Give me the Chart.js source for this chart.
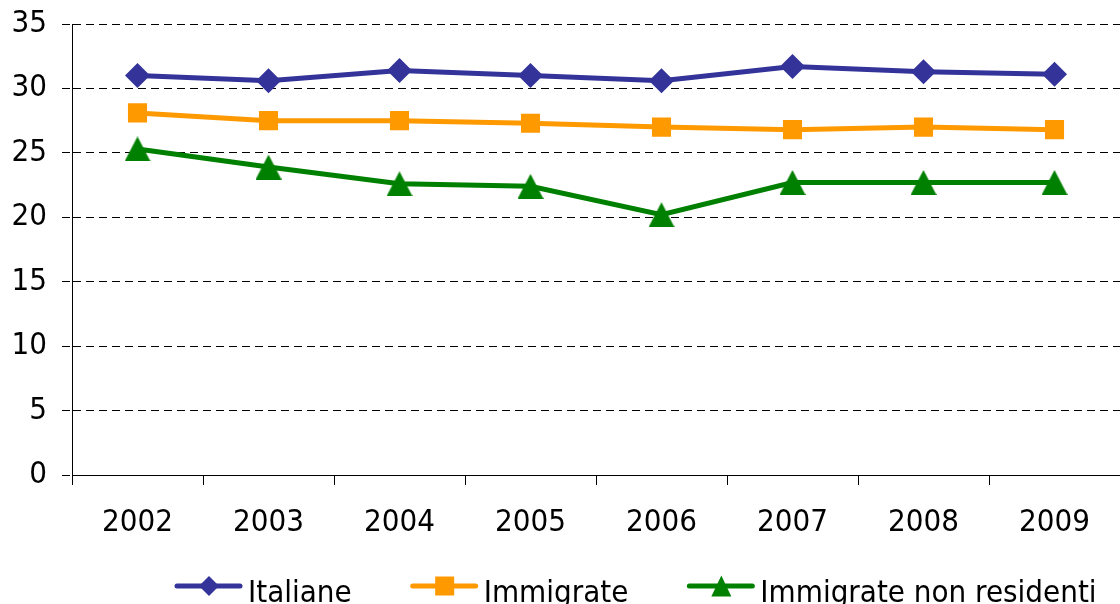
<!DOCTYPE html>
<html>
<head>
<meta charset="utf-8">
<script src="https://cdn.jsdelivr.net/npm/chart.js@4"></script>
<style>
  html, body { margin: 0; padding: 0; background: #fff; }
</style>
</head>
<body>
<canvas id="chart" width="1120" height="604"></canvas>
<script>
const years = ['2002', '2003', '2004', '2005', '2006', '2007', '2008', '2009'];
const seriesNames = ['Italiane', 'Immigrate', 'Immigrate non residenti'];
const italiane = [31.0, 30.6, 31.4, 31.0, 30.6, 31.7, 31.3, 31.1];
const immigrate = [28.1, 27.5, 27.5, 27.3, 27.0, 26.8, 27.0, 26.8];
const nonResidenti = [25.3, 23.9, 22.6, 22.4, 20.2, 22.7, 22.7, 22.7];
const yMin = 0, yMax = 35, yStep = 5;

const FONT = '"DejaVu Sans Condensed", "DejaVu Sans", sans-serif';
const BLUE = '#333399', ORANGE = '#FF9900', GREEN = '#008000';

// triangle marker as a small canvas, slightly taller than equilateral
function triangleImage(w, h, color) {
  const c = document.createElement('canvas');
  c.width = w; c.height = h;
  const g = c.getContext('2d');
  g.fillStyle = color;
  g.beginPath();
  g.moveTo(w / 2, 0);
  g.lineTo(w, h);
  g.lineTo(0, h);
  g.closePath();
  g.fill();
  return c;
}

function drawMarker(ctx, style, x, y, color) {
  ctx.fillStyle = color;
  ctx.beginPath();
  if (style === 'diamond') {
    ctx.moveTo(x - 10, y); ctx.lineTo(x, y - 10); ctx.lineTo(x + 10, y); ctx.lineTo(x, y + 10);
  } else if (style === 'square') {
    ctx.rect(x - 9.5, y - 9.5, 19, 19);
  } else {
    ctx.moveTo(x, y - 10.5); ctx.lineTo(x + 10, y + 10.5); ctx.lineTo(x - 10, y + 10.5);
  }
  ctx.closePath();
  ctx.fill();
}

// legend below the axis: line segment with the marker in the middle, then the label
const lineLegend = {
  id: 'lineLegend',
  afterDraw(chart) {
    const ctx = chart.ctx;
    const styles = ['diamond', 'square', 'triangle'];
    let x = 177;
    const y = 586;
    ctx.save();
    ctx.font = '31px ' + FONT;
    chart.data.datasets.forEach((ds, i) => {
      ctx.strokeStyle = ds.borderColor;
      ctx.lineWidth = 5;
      ctx.lineCap = 'round';
      ctx.beginPath();
      ctx.moveTo(x, y);
      ctx.lineTo(x + 63, y);
      ctx.stroke();
      drawMarker(ctx, styles[i], x + 32, y, ds.borderColor);
      ctx.fillStyle = '#000';
      ctx.textBaseline = 'alphabetic';
      ctx.fillText(ds.label, x + 71, 602);
      x += 71 + ctx.measureText(ds.label).width + 61;
    });
    ctx.restore();
  }
};

new Chart(document.getElementById('chart'), {
  type: 'line',
  data: {
    labels: years,
    datasets: [
      {
        label: seriesNames[0],
        data: italiane,
        borderColor: BLUE,
        backgroundColor: BLUE,
        pointBackgroundColor: BLUE,
        pointStyle: 'rectRot',
        pointRadius: 12.5,
        pointBorderWidth: 0
      },
      {
        label: seriesNames[1],
        data: immigrate,
        borderColor: ORANGE,
        backgroundColor: ORANGE,
        pointBackgroundColor: ORANGE,
        pointStyle: 'rect',
        pointRadius: 13.5,
        pointBorderWidth: 0
      },
      {
        label: seriesNames[2],
        data: nonResidenti,
        borderColor: GREEN,
        backgroundColor: GREEN,
        pointBackgroundColor: GREEN,
        pointStyle: triangleImage(26, 25, GREEN),
        pointRadius: 13,
        pointBorderWidth: 0
      }
    ]
  },
  options: {
    responsive: false,
    devicePixelRatio: 1,
    animation: false,
    events: [],
    elements: {
      line: { borderWidth: 5, tension: 0 }
    },
    layout: { autoPadding: false, padding: { top: 24, right: 0, left: 0, bottom: 0 } },
    plugins: {
      legend: { display: false },
      tooltip: { enabled: false }
    },
    scales: {
      x: {
        offset: true,
        grid: {
          offset: true,
          drawOnChartArea: false,
          drawTicks: true,
          tickLength: 10,
          color: '#000'
        },
        border: { color: '#000', width: 1 },
        ticks: { color: '#000', font: { family: FONT, size: 31 }, padding: 19, maxRotation: 0 },
        afterFit(scale) {
          scale.height = 129;
          scale.paddingLeft = 0;
          scale.paddingRight = 0;
        }
      },
      y: {
        min: yMin,
        max: yMax,
        grid: {
          color: '#000',
          lineWidth: 1,
          tickLength: 10,
          tickBorderDash: [8, 5]
        },
        border: { color: '#000', width: 1, dash: [8, 5] },
        ticks: { stepSize: yStep, color: '#000', font: { family: FONT, size: 31 }, padding: 15 },
        afterFit(scale) {
          scale.width = 72;
          scale.paddingTop = 0;
          scale.paddingBottom = 0;
        }
      }
    }
  },
  plugins: [lineLegend]
});
</script>
</body>
</html>
